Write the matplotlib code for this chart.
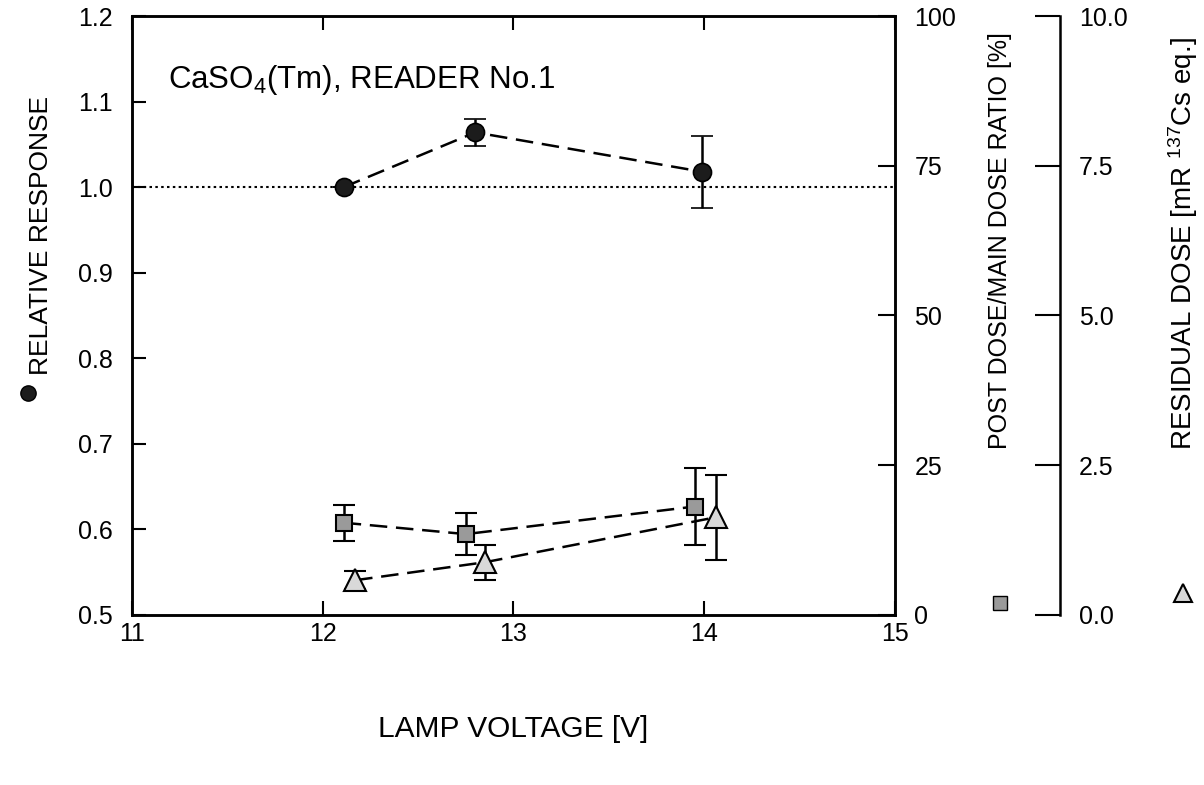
import numpy as np
import matplotlib
matplotlib.use('Agg')
import matplotlib.pyplot as plt
from matplotlib.lines import Line2D

plt.rcParams['font.family'] = ['Liberation Sans', 'DejaVu Sans']
plt.rcParams['mathtext.fontset'] = 'custom'
plt.rcParams['mathtext.rm'] = 'Liberation Sans'
plt.rcParams['mathtext.default'] = 'regular'

# relative response (left axis)
volt_resp = [12.11, 12.80, 13.99]
resp = [1.000, 1.064, 1.018]
resp_err = [0.0, 0.016, 0.042]

# post dose / main dose ratio [%] (first right axis)
volt_ratio = [12.11, 12.75, 13.95]
ratio = [15.4, 13.5, 18.1]
ratio_err = [3.0, 3.5, 6.5]

# residual dose [mR 137Cs eq.] (second right axis)
volt_resid = [12.17, 12.85, 14.06]
resid = [0.58, 0.88, 1.63]
resid_err = [0.15, 0.29, 0.71]

x_ticks = [11, 12, 13, 14, 15]
resp_ticks = [0.5, 0.6, 0.7, 0.8, 0.9, 1.0, 1.1, 1.2]
ratio_ticks = [0, 25, 50, 75, 100]
resid_ticks = [0.0, 2.5, 5.0, 7.5, 10.0]

FS = 18
dash = (0, (7, 3.5))

fig = plt.figure(figsize=(12.04, 7.85), dpi=100)
ax = fig.add_axes([0.1096, 0.2166, 0.6337, 0.763])

# reference line at 1.0
ax.axhline(1.0, color='k', lw=1.5, ls=(0, (1.2, 1.6)), zorder=1)

ax.errorbar(volt_resp, resp, yerr=resp_err, fmt='o', ls=dash, color='k', lw=1.8,
            ms=13, mfc='#1c1c1c', mec='k', mew=1.2, elinewidth=1.8, capsize=8,
            capthick=1.8, zorder=3)
ax.set_xlim(11, 15)
ax.set_ylim(0.5, 1.2)
ax.set_xticks(x_ticks)
ax.set_yticks(resp_ticks)
ax.set_yticklabels(['%.1f' % v for v in resp_ticks])
ax.tick_params(axis='both', direction='in', length=10, width=1.5, labelsize=FS)
ax.tick_params(axis='y', pad=14)
ax.tick_params(axis='x', pad=5, top=True, labeltop=False)
for s in ax.spines.values():
    s.set_linewidth(1.8)
ax.set_xlabel('LAMP VOLTAGE [V]', fontsize=21.5, labelpad=50)

ax.text(0.047, 0.893, 'CaSO$_4$(Tm), READER No.1', transform=ax.transAxes,
        fontsize=22.5, ha='left', va='center')

# post dose ratio axis
ax2 = ax.twinx()
ax2.errorbar(volt_ratio, ratio, yerr=ratio_err, fmt='s', ls=dash, color='k', lw=1.8,
             ms=12, mfc='#9a9a9a', mec='k', mew=1.5, elinewidth=1.8, capsize=8,
             capthick=1.8, zorder=3)
ax2.set_ylim(0, 100)
ax2.set_yticks(ratio_ticks)
ax2.tick_params(axis='y', direction='in', length=12, width=1.5, labelsize=FS, pad=14)
for s in ax2.spines.values():
    s.set_linewidth(1.8)

# residual dose axis
ax3 = ax.twinx()
ax3.spines['right'].set_position(('axes', 1.216))
for k in ['top', 'bottom', 'left']:
    ax3.spines[k].set_visible(False)
ax3.spines['right'].set_linewidth(1.8)
ax3.errorbar(volt_resid, resid, yerr=resid_err, fmt='^', ls=dash, color='k', lw=1.8,
             ms=16, mfc='#d9d9d9', mec='k', mew=1.5, elinewidth=1.8, capsize=8,
             capthick=1.8, zorder=3, clip_on=False)
ax3.set_ylim(0, 10)
ax3.set_yticks(resid_ticks)
ax3.set_yticklabels(['%.1f' % v for v in resid_ticks])
ax3.tick_params(axis='y', direction='in', length=18, width=1.5, labelsize=FS, pad=14)

# axis titles with marker keys
fig.text(0.034, 0.70, 'RELATIVE RESPONSE', rotation=90, fontsize=19,
         ha='center', va='center')
fig.add_artist(Line2D([0.023], [0.50], marker='o', ms=11, mfc='#1c1c1c', mec='k',
                      transform=fig.transFigure))
fig.text(0.8306, 0.694, 'POST DOSE/MAIN DOSE RATIO [%]', rotation=90, fontsize=18,
         ha='center', va='center')
fig.add_artist(Line2D([0.8306], [0.232], marker='s', ms=10, mfc='#9a9a9a', mec='k',
                      transform=fig.transFigure))
fig.text(0.9826, 0.69, 'RESIDUAL DOSE [mR $^{137}$Cs eq.]', rotation=90, fontsize=20,
         ha='center', va='center')
fig.add_artist(Line2D([0.9826], [0.245], marker='^', ms=13, mfc='#d9d9d9', mec='k',
                      mew=1.5, transform=fig.transFigure))

fig.savefig('out.png', dpi=100)
